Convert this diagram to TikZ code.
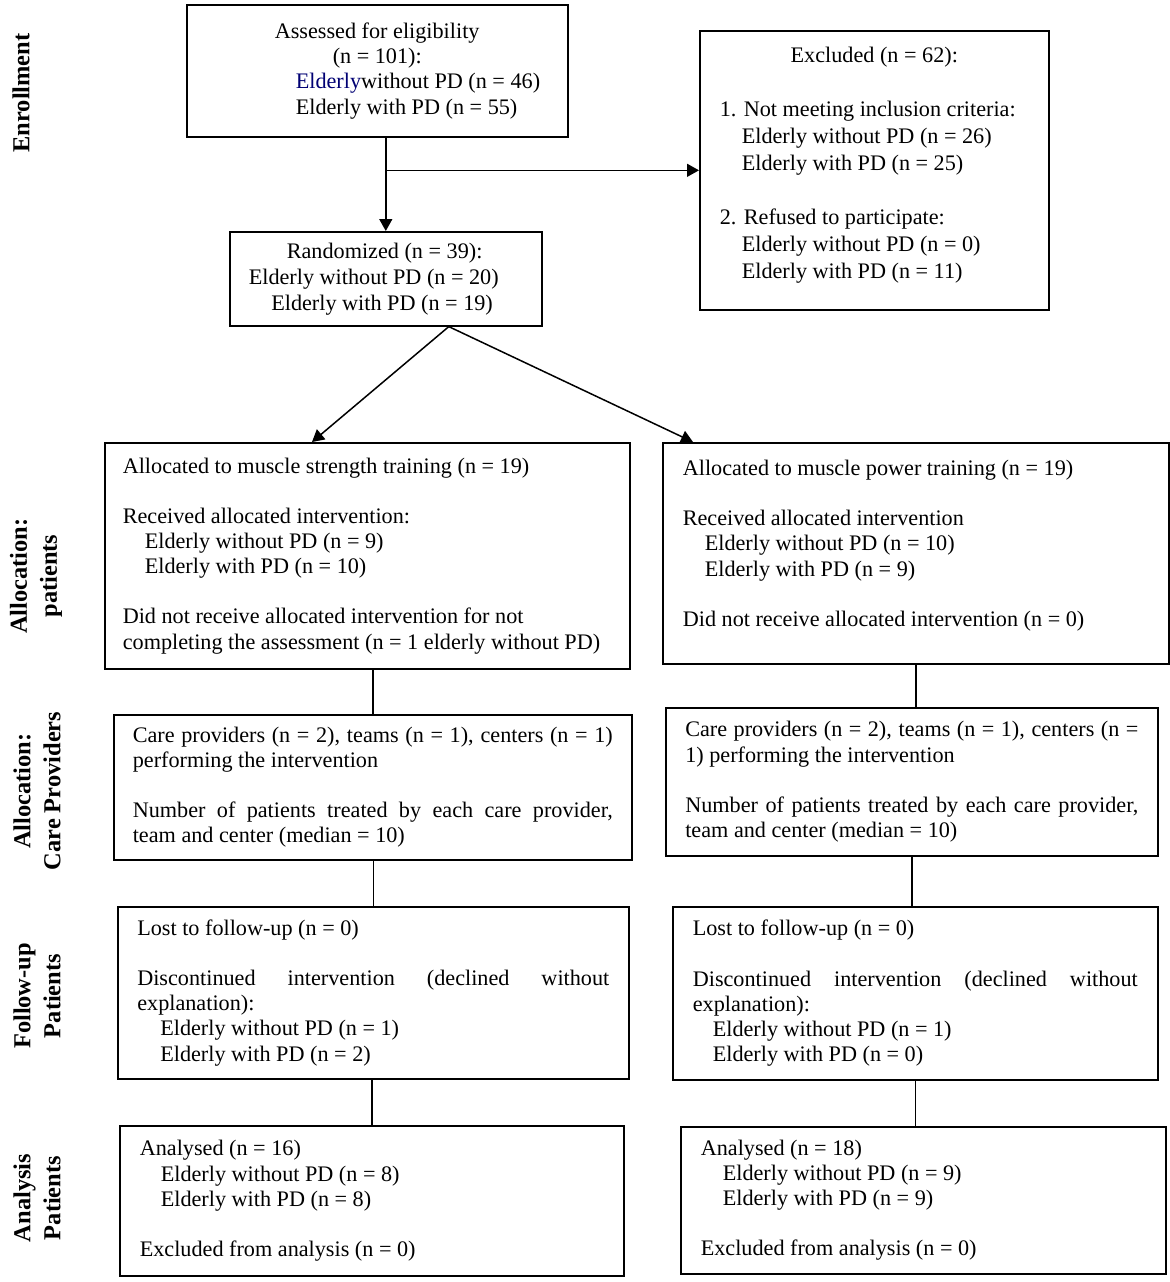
\documentclass[tikz,border=0pt]{standalone}
\usepackage{fontspec}
\setmainfont{Liberation Serif}
\usetikzlibrary{arrows.meta}
\tolerance=10000 \hbadness=10000 \hyphenpenalty=10000

\tikzset{
    caja/.style={draw, line width=0.8pt, anchor=north west, inner ysep=0pt,
        font=\fontsize{11.1}{12.6}\selectfont},
    izq/.style={caja, align=flush left},
    just/.style={caja, align=justify},
    etiqueta/.style={rotate=90, align=center, font=\fontsize{12.2}{15}\selectfont\bfseries},
    flecha/.style={line width=0.75pt, -{Triangle[length=6pt,width=6.5pt]}},
    linea/.style={line width=0.75pt}
}
\newcommand{\sangria}{\hspace*{11pt}}

\begin{document}
\begin{tikzpicture}[x=0.5pt,y=-0.5pt]
        %colores
        \colorlet{azul}{blue!45!black}

        \useasboundingbox (0,0) rectangle (1170,1282);

        % Etiquetas de fase
        \node[etiqueta] (lEnr) at (21,93) {Enrollment};
        \node[etiqueta] (lPat) at (36,576) {Allocation:\\patients};
        \node[etiqueta] (lCare) at (37,791) {Allocation:\\Care Providers};
        \node[etiqueta] (lFol) at (37,996) {Follow-up\\Patients};
        \node[etiqueta] (lAna) at (37,1198) {Analysis\\Patients};

        % Enrollment
        \node[izq, font=\fontsize{11.1}{12.7}\selectfont, inner xsep=5pt, text width=180.5pt,
            minimum width=190.5pt, minimum height=66pt] (asses) at (186,4)
            {\hspace*{39pt}Assessed for eligibility\\
             \hspace*{68pt}(n = 101):\\
             \hspace*{49.5pt}\textcolor{azul}{Elderly}without PD (n = 46)\\
             \hspace*{49.5pt}Elderly with PD (n = 55)};
        \node[izq, font=\fontsize{11.1}{13.5}\selectfont, inner xsep=0pt, text width=174.5pt,
            minimum width=174.5pt, minimum height=139.5pt] (excl) at (699,30)
            {\makebox[174.5pt]{Excluded (n = 62):}\\[13.5pt]
             \hspace*{10pt}1. Not meeting inclusion criteria:\\
             \hspace*{21pt}Elderly without PD (n = 26)\\
             \hspace*{21pt}Elderly with PD (n = 25)\\[13.5pt]
             \hspace*{10pt}2. Refused to participate:\\
             \hspace*{21pt}Elderly without PD (n = 0)\\
             \hspace*{21pt}Elderly with PD (n = 11)\\[-5.5pt]\mbox{}};
        \node[izq, font=\fontsize{11.1}{13}\selectfont, inner xsep=5pt, text width=146pt,
            minimum width=156pt, minimum height=47pt] (random) at (229,231)
            {\hspace*{23.5pt}Randomized (n = 39):\\
             \hspace*{4.5pt}Elderly without PD (n = 20)\\
             \hspace*{15.75pt}Elderly with PD (n = 19)};

        % Allocation: patients
        \node[izq, inner xsep=9pt, text width=244.5pt, minimum width=262.5pt,
            minimum height=113pt] (allocL) at (104,442)
            {Allocated to muscle strength training (n = 19)\\[12.5pt]
             Received allocated intervention:\\
             \sangria Elderly without PD (n = 9)\\
             \sangria Elderly with PD (n = 10)\\[12.5pt]
             Did not receive allocated intervention for not\\
             completing the assessment (n = 1 elderly without PD)};
        \node[izq, inner xsep=10pt, text width=233pt, minimum width=253pt,
            minimum height=110.5pt] (allocR) at (662,442)
            {Allocated to muscle power training (n = 19)\\[12.5pt]
             Received allocated intervention\\
             \sangria Elderly without PD (n = 10)\\
             \sangria Elderly with PD (n = 9)\\[12.5pt]
             Did not receive allocated intervention (n = 0)\\[-2.5pt]\mbox{}};

        % Allocation: care providers
        \node[just, inner xsep=9.5pt, text width=240pt, minimum width=259pt,
            minimum height=72.5pt] (careL) at (113,714)
            {Care providers (n = 2), teams (n = 1), centers (n = 1)\linebreak
             performing the intervention\\[12.5pt]
             Number of patients treated by each care provider,\linebreak
             team and center (median = 10)};
        \node[just, inner xsep=9.75pt, text width=226.5pt, minimum width=246pt,
            minimum height=74pt] (careR) at (665,707)
            {Care providers (n = 2), teams (n = 1), centers (n =\linebreak
             1) performing the intervention\\[12.5pt]
             Number of patients treated by each care provider,\linebreak
             team and center (median = 10)};

        % Follow-up
        \node[just, inner xsep=9.75pt, text width=236pt, minimum width=255.5pt,
            minimum height=86pt] (followL) at (117,906)
            {Lost to follow-up (n = 0)\\[12.5pt]
             Discontinued intervention (declined without\linebreak
             explanation):\\
             \hspace*{11.5pt}Elderly without PD (n = 1)\\
             \hspace*{11.5pt}Elderly with PD (n = 2)};
        \node[just, inner xsep=10pt, text width=222.5pt, minimum width=242.5pt,
            minimum height=86.5pt] (followR) at (672,906)
            {Lost to follow-up (n = 0)\\[12.5pt]
             Discontinued intervention (declined without\linebreak
             explanation):\\
             \hspace*{10pt}Elderly without PD (n = 1)\\
             \hspace*{10pt}Elderly with PD (n = 0)};

        % Analysis
        \node[izq, inner xsep=10pt, text width=232pt, minimum width=252pt,
            minimum height=75pt] (analL) at (119,1125)
            {Analysed (n = 16)\\
             \hspace*{10.5pt}Elderly without PD (n = 8)\\
             \hspace*{10.5pt}Elderly with PD (n = 8)\\[12.5pt]
             Excluded from analysis (n = 0)};
        \node[izq, inner xsep=10pt, text width=222.5pt, minimum width=242.5pt,
            minimum height=73.5pt] (analR) at (680,1126)
            {Analysed (n = 18)\\
             \hspace*{11pt}Elderly without PD (n = 9)\\
             \hspace*{11pt}Elderly with PD (n = 9)\\[12.5pt]
             Excluded from analysis (n = 0)};

        % Flechas
        \coordinate (ramif) at ([xshift=31.5pt]random.south);
        \draw[flecha] (asses.south -| random.north) -- (random.north);
        \draw[flecha] (random.north |- excl.west) -- (excl.west);
        \draw[flecha] (ramif) -- ([xshift=104pt]allocL.north west);
        \draw[flecha] (ramif) -- ([xshift=15.5pt]allocR.north west);

        % Lineas entre fases
        \foreach \a/\b in {allocL/careL, careL/followL, followL/analL}
            \draw[linea] (\a.south -| \b.north) -- (\b.north);
        \foreach \a/\b in {allocR/careR, careR/followR, followR/analR}
            \draw[linea] (\a.south) -- (\a.south |- \b.north);
\end{tikzpicture}
\end{document}
